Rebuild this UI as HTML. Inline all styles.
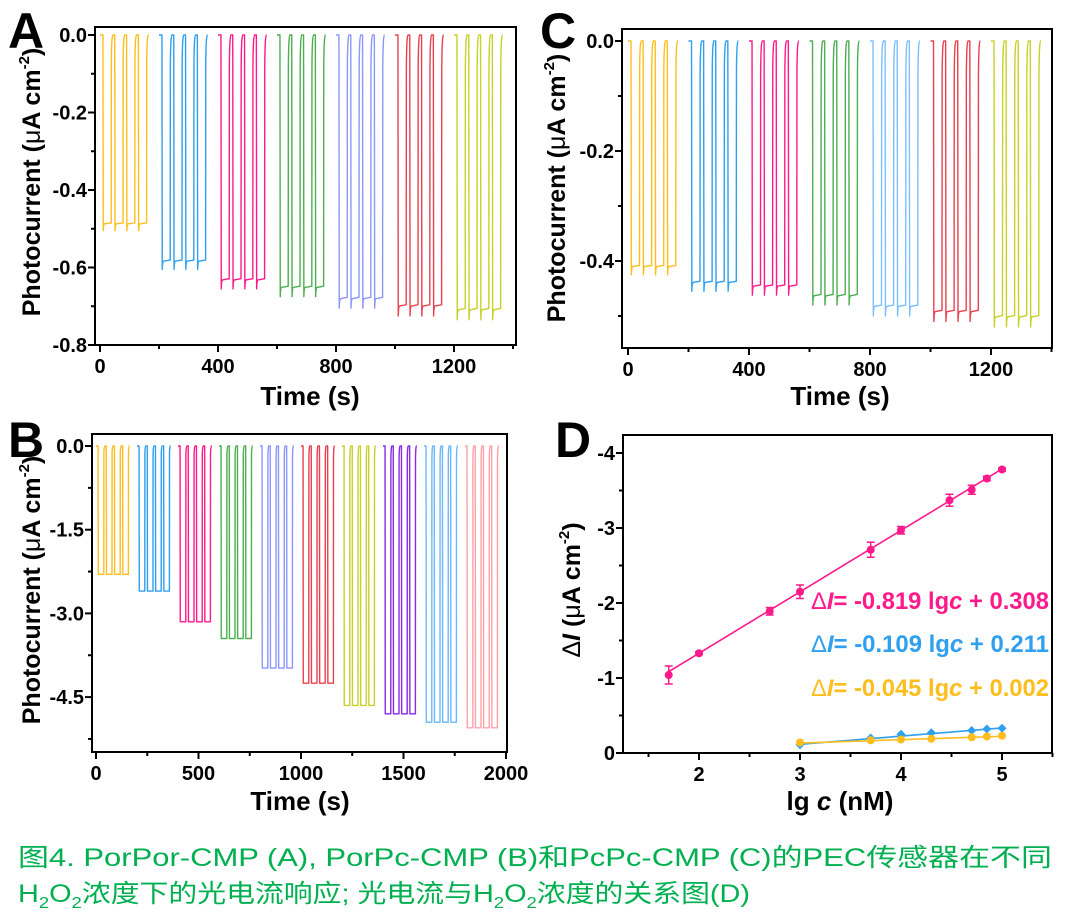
<!DOCTYPE html>
<html><head><meta charset="utf-8"><style>
html,body{margin:0;padding:0;background:#fff;width:1070px;height:920px;overflow:hidden}
svg{display:block}
text{font-family:"Liberation Sans",Arial,sans-serif;font-weight:bold;fill:#000}
.cap{font-family:"Liberation Sans","Noto Sans CJK SC",sans-serif;font-weight:normal;fill:#00b050}
</style></head><body>
<svg id="fig" width="1070" height="920" viewBox="0 0 1070 920" xmlns="http://www.w3.org/2000/svg">
<text class="cap" x="18" y="866" font-size="25" textLength="1034" lengthAdjust="spacingAndGlyphs">图4. PorPor-CMP (A), PorPc-CMP (B)和PcPc-CMP (C)的PEC传感器在不同</text>
<text class="cap" x="18" y="902" font-size="25" textLength="732" lengthAdjust="spacingAndGlyphs">H<tspan font-size="16" dy="6">2</tspan><tspan dy="-6">O</tspan><tspan font-size="16" dy="6">2</tspan><tspan dy="-6">浓度下的光电流响应; 光电流与H</tspan><tspan font-size="16" dy="6">2</tspan><tspan dy="-6">O</tspan><tspan font-size="16" dy="6">2</tspan><tspan dy="-6">浓度的关系图(D)</tspan></text>
</svg>
<script>
// ---- data ----
const lowsA = [-0.505,-0.605,-0.655,-0.675,-0.705,-0.725,-0.735];
const lowsC = [-0.425,-0.455,-0.462,-0.48,-0.5,-0.51,-0.52];
const lowsB = [-2.3,-2.6,-3.15,-3.45,-3.98,-4.25,-4.65,-4.8,-4.95,-5.05];
const colorsA = ['#ffbe1e','#2f9ff0','#ff1a8c','#4caf50','#8c96ff','#e8404e','#c8d12a'];
const colorsC = ['#ffbe1e','#2f9ff0','#ff1a8c','#4caf50','#7cc0ff','#e8404e','#c8d12a'];
const colorsB = ['#ffbe1e','#2f9ff0','#ff1a8c','#4caf50','#8c96ff','#e8404e','#c8d12a','#8a2be2','#6cb8ff','#ffa0a8'];
const lgcPink = [1.7,2,2.7,3,3.7,4,4.48,4.7,4.85,5];
const dIPink = [-1.04,-1.33,-1.89,-2.15,-2.71,-2.97,-3.37,-3.51,-3.66,-3.78];
const errPink = [0.12,0.02,0.05,0.09,0.1,0.05,0.08,0.06,0.03,0.02];
const lgcLow = [3,3.7,4,4.3,4.7,4.85,5];
const dIBlue = [-0.11,-0.2,-0.25,-0.27,-0.3,-0.32,-0.33];
const dIYellow = [-0.14,-0.17,-0.18,-0.19,-0.21,-0.22,-0.23];
const fitPink = [-0.819,0.308];
const fitBlue = [-0.109,0.211];
const fitYellow = [-0.045,0.002];

const NS='http://www.w3.org/2000/svg';
const svg=document.getElementById('fig');
function mk(tag,attrs,parent){const e=document.createElementNS(NS,tag);for(const k in attrs)e.setAttribute(k,attrs[k]);(parent||svg).appendChild(e);return e;}

function axes(p){
  const g=mk('g',{});
  
  
  const [l,t,r,b]=p.box;
  const box=mk('rect',{x:l,y:t,width:r-l,height:b-t,fill:'none',stroke:'#000','stroke-width':2},g);
  
  
  p.yMajor.forEach((v,i)=>{const y=p.ys(v);
    mk('line',{x1:l-7,x2:l,y1:y,y2:y,stroke:'#000','stroke-width':2},g);
    const tx=mk('text',{x:l-8,y:y+7,'font-size':20,'text-anchor':'end'},g);tx.textContent=p.yLabels[i];
    
    });
  p.yMinor.forEach(v=>{const y=p.ys(v);mk('line',{x1:l-4,x2:l,y1:y,y2:y,stroke:'#000','stroke-width':2},g);});
  p.xMajor.forEach((v,i)=>{const x=p.xs(v);
    mk('line',{x1:x,x2:x,y1:b,y2:b+7,stroke:'#000','stroke-width':2},g);
    const tx=mk('text',{x:x,y:b+28,'font-size':20,'text-anchor':'middle'},g);tx.textContent=p.xLabels[i];
    
    });
  p.xMinor.forEach(v=>{const x=p.xs(v);mk('line',{x1:x,x2:x,y1:b,y2:b+4,stroke:'#000','stroke-width':2},g);});
  const xt=mk('text',{x:p.xTitle[0],y:p.xTitle[1],'font-size':26,'text-anchor':'middle'},g);
  xt.innerHTML=p.xTitleHtml;
  
  
  const yt=mk('text',{x:0,y:0,'font-size':25,'text-anchor':'middle',transform:`translate(${p.yTitle[0]},${p.yTitle[1]}) rotate(-90)`},g);
  yt.innerHTML=p.yTitleHtml;
  
  
  const pl=mk('text',{x:p.letter[0],y:p.letter[1],'font-size':50},g);pl.textContent=p.letter[2];
  
  
  return g;
}
const pcTitle='Photocurrent (<tspan font-weight="normal">μ</tspan>A cm<tspan font-size="15" dy="-11">-2</tspan><tspan dy="11">)</tspan>';

function pulses(g,p,lows,colors,spike){
  lows.forEach((low,gi)=>{
    const t0=200*gi;let d=`M${p.xs(t0)},${p.ys(0)}`;
    for(let k=0;k<4;k++){const a=t0+10+40*k;
      if(spike){
        const s=low*0.965;
        d+=` L${p.xs(a)},${p.ys(0)} L${p.xs(a+1)},${p.ys(low)} Q${p.xs(a+2)},${p.ys(s)} ${p.xs(a+5)},${p.ys(s)} L${p.xs(a+28)},${p.ys(s*0.995)} L${p.xs(a+28.5)},${p.ys(low*0.12)} Q${p.xs(a+29.5)},${p.ys(0)} ${p.xs(a+34)},${p.ys(0)}`;
      } else {
        d+=` L${p.xs(a)},${p.ys(0)} L${p.xs(a+1)},${p.ys(low)} L${p.xs(a+28)},${p.ys(low)} L${p.xs(a+28.5)},${p.ys(low*0.05)} Q${p.xs(a+29.5)},${p.ys(0)} ${p.xs(a+33)},${p.ys(0)}`;
      }
    }
    d+=` L${p.xs(t0+165)},${p.ys(0)}`;
    const path=mk('path',{d:d,fill:'none',stroke:colors[gi],'stroke-width':1.4,'stroke-linejoin':'round'},g);
    
    
  });
}

// Panel A
const pA={name:'panel-a',box:[95,27,516,345],xs:t=>100+t*0.295,ys:v=>35-v*387.5,
 yMajor:[0,-0.2,-0.4,-0.6,-0.8],yLabels:['0.0','-0.2','-0.4','-0.6','-0.8'],yMinor:[-0.1,-0.3,-0.5,-0.7],
 xMajor:[0,400,800,1200],xLabels:['0','400','800','1200'],xMinor:[200,600,1000,1400],
 xTitle:[310,405],xTitleHtml:'Time (s)',yTitle:[40,182],yTitleHtml:pcTitle,letter:[8,48,'A']};
pulses(axes(pA),pA,lowsA,colorsA,true);
// Panel C
const pC={name:'panel-c',box:[622,29,1052,348],xs:t=>628+t*0.3025,ys:v=>41-v*550,
 yMajor:[0,-0.2,-0.4],yLabels:['0.0','-0.2','-0.4'],yMinor:[-0.1,-0.3,-0.5],
 xMajor:[0,400,800,1200],xLabels:['0','400','800','1200'],xMinor:[200,600,1000,1400],
 xTitle:[840,405],xTitleHtml:'Time (s)',yTitle:[565,188],yTitleHtml:pcTitle,letter:[540,48,'C']};
pulses(axes(pC),pC,lowsC,colorsC,true);
// Panel B
const pB={name:'panel-b',box:[92,434,507,752],xs:t=>96+t*0.205,ys:v=>446-v*55.8,
 yMajor:[0,-1.5,-3,-4.5],yLabels:['0.0','-1.5','-3.0','-4.5'],yMinor:[-0.75,-2.25,-3.75,-5.25],
 xMajor:[0,500,1000,1500,2000],xLabels:['0','500','1000','1500','2000'],xMinor:[250,750,1250,1750],
 xTitle:[300,810],xTitleHtml:'Time (s)',yTitle:[40,590],yTitleHtml:pcTitle,letter:[8,457,'B']};
pulses(axes(pB),pB,lowsB,colorsB,false);
// Panel D
const pD={name:'panel-d',box:[623,435,1052,753],xs:x=>699+(x-2)*101,ys:v=>753+v*75,
 yMajor:[0,-1,-2,-3,-4],yLabels:['0','-1','-2','-3','-4'],yMinor:[-0.5,-1.5,-2.5,-3.5],
 xMajor:[2,3,4,5],xLabels:['2','3','4','5'],xMinor:[1.5,2.5,3.5,4.5,5.5],
 xTitle:[840,810],xTitleHtml:'lg <tspan font-style="italic">c</tspan> (nM)',yTitle:[580,590],
 yTitleHtml:'<tspan font-weight="normal">Δ</tspan><tspan font-style="italic">I</tspan> (<tspan font-weight="normal">μ</tspan>A cm<tspan font-size="15" dy="-11">-2</tspan><tspan dy="11">)</tspan>',letter:[555,457,'D']};
const gD=axes(pD);
function series(xsArr,ysArr,errs,fit,color,name,marker){
  const x0=xsArr[0],x1=xsArr[xsArr.length-1];
  const ln=mk('line',{x1:pD.xs(x0),y1:pD.ys(fit[0]*x0+fit[1]),x2:pD.xs(x1),y2:pD.ys(fit[0]*x1+fit[1]),stroke:color,'stroke-width':1.6},gD);
  
  
  xsArr.forEach((x,i)=>{const cx=pD.xs(x),cy=pD.ys(ysArr[i]);
    if(errs){const e=errs[i];
      const eb=mk('path',{d:`M${cx},${pD.ys(ysArr[i]-e)}V${pD.ys(ysArr[i]+e)}M${cx-4},${pD.ys(ysArr[i]-e)}h8M${cx-4},${pD.ys(ysArr[i]+e)}h8`,stroke:color,'stroke-width':1.5,fill:'none'},gD);
      
      }
    const m= marker==='d' ? mk('path',{d:`M${cx},${cy-4.5}L${cx+4.5},${cy}L${cx},${cy+4.5}L${cx-4.5},${cy}Z`,fill:color},gD)
                          : mk('circle',{cx:cx,cy:cy,r:4,fill:color},gD);
    
    
  });
}
series(lgcLow,dIBlue,null,fitBlue,'#2f9ff0','blue','d');
series(lgcLow,dIYellow,null,fitYellow,'#ffbe1e','yellow','c');
series(lgcPink,dIPink,errPink,fitPink,'#ff1a8c','pink','c');
[['#ff1a8c',fitPink,609],['#2f9ff0',fitBlue,652],['#ffbe1e',fitYellow,696]].forEach(([c,f,y])=>{
  const t=mk('text',{x:811,y:y,'font-size':24,style:'fill:'+c,textLength:238,lengthAdjust:'spacingAndGlyphs'},gD);
  const fmt=v=>(v<0?'-':'')+Math.abs(v).toFixed(3);
  t.innerHTML=`<tspan font-weight="normal">Δ</tspan><tspan font-style="italic">I</tspan>= ${fmt(f[0])} lg<tspan font-style="italic">c</tspan> + ${fmt(f[1])}`;
  
  
});
</script>
</body></html>
